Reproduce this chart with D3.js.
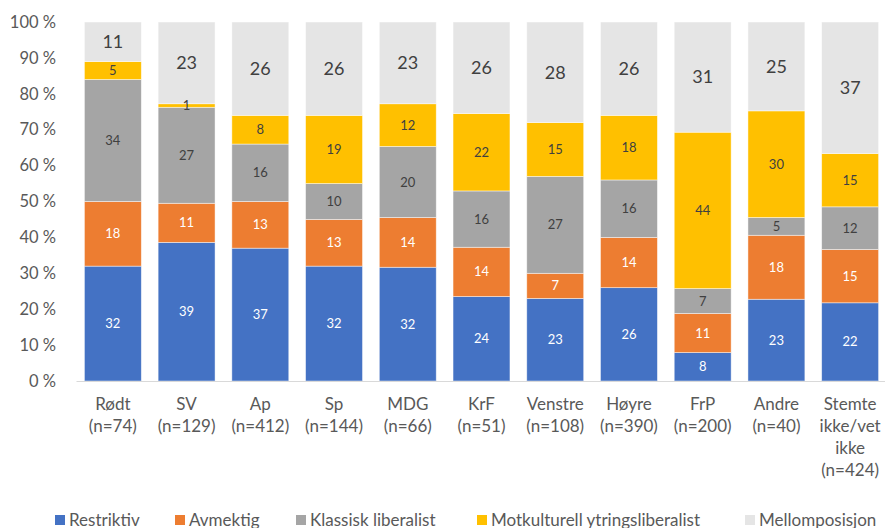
<!DOCTYPE html>
<html>
<head>
<meta charset="utf-8">
<script src="https://cdn.jsdelivr.net/npm/d3@7"></script>
<style>
  body { margin: 0; background: #fff; }
  svg { font-family: Lato, 'Open Sans', sans-serif; }
</style>
</head>
<body>
<svg></svg>
<script>
const parties = ['Rødt', 'SV', 'Ap', 'Sp', 'MDG', 'KrF', 'Venstre', 'Høyre', 'FrP', 'Andre', 'Stemte'];
const partyLabels = [
  ['Rødt', '(n=74)'],
  ['SV', '(n=129)'],
  ['Ap', '(n=412)'],
  ['Sp', '(n=144)'],
  ['MDG', '(n=66)'],
  ['KrF', '(n=51)'],
  ['Venstre', '(n=108)'],
  ['Høyre', '(n=390)'],
  ['FrP', '(n=200)'],
  ['Andre', '(n=40)'],
  ['Stemte', 'ikke/vet', 'ikke', '(n=424)'],
];

const seriesNames = ['Restriktiv', 'Avmektig', 'Klassisk liberalist', 'Motkulturell ytringsliberalist', 'Mellomposisjon'];
const restriktiv = [32, 39, 37, 32, 32, 24, 23, 26, 8, 23, 22];
const avmektig = [18, 11, 13, 13, 14, 14, 7, 14, 11, 18, 15];
const klassisk = [34, 27, 16, 10, 20, 16, 27, 16, 7, 5, 12];
const motkulturell = [5, 1, 8, 19, 12, 22, 15, 18, 44, 30, 15];
const mellom = [11, 23, 26, 26, 23, 26, 28, 26, 31, 25, 37];
const yTicks = [0, 10, 20, 30, 40, 50, 60, 70, 80, 90, 100];

const colors = ['#4472C4', '#ED7D31', '#A5A5A5', '#FFC000', '#E5E5E5'];
const labelColors = ['#ffffff', '#ffffff', '#404040', '#404040', '#404040'];

const width = 885;
const height = 528;

const svg = d3.select('svg').attr('width', width).attr('height', height);

const table = parties.map((p, i) => {
  return {
    party: p,
    s0: restriktiv[i],
    s1: avmektig[i],
    s2: klassisk[i],
    s3: motkulturell[i],
    s4: mellom[i],
  };
});

const keys = ['s0', 's1', 's2', 's3', 's4'];
const stacked = d3.stack().keys(keys).offset(d3.stackOffsetExpand)(table);

const xScale = d3
  .scaleBand()
  .domain(parties)
  .range([76, 887])
  .paddingInner(0.228)
  .paddingOuter(0.114);

const yScale = d3.scaleLinear().domain([0, 1]).range([381, 22]);

// bars
const layers = svg
  .selectAll('g.layer')
  .data(stacked)
  .enter()
  .append('g')
  .attr('class', 'layer')
  .attr('fill', (d, i) => colors[i]);

layers
  .selectAll('rect')
  .data((d) => d)
  .enter()
  .append('rect')
  .attr('x', (d) => xScale(d.data.party))
  .attr('width', xScale.bandwidth())
  .attr('y', (d) => yScale(d[1]))
  .attr('height', (d) => yScale(d[0]) - yScale(d[1]))
  .attr('stroke', '#ffffff')
  .attr('stroke-opacity', 0.6)
  .attr('stroke-width', 0.75);

// value labels
stacked.forEach((layer, i) => {
  svg
    .append('g')
    .selectAll('text')
    .data(layer)
    .enter()
    .append('text')
    .attr('x', (d) => xScale(d.data.party) + xScale.bandwidth() / 2)
    .attr('y', (d) => yScale((d[0] + d[1]) / 2))
    .attr('dy', '0.35em')
    .attr('text-anchor', 'middle')
    .attr('fill', labelColors[i])
    .style('font-size', i === 4 ? '18px' : '13px')
    .text((d) => d.data[layer.key]);
});

// y axis
const yAxis = d3
  .axisLeft(yScale)
  .tickValues(yTicks.map((t) => t / 100))
  .tickFormat((t) => Math.round(t * 100) + ' %')
  .tickSize(0)
  .tickPadding(0);

svg
  .append('g')
  .attr('transform', 'translate(56, 0)')
  .call(yAxis)
  .call((g) => g.select('.domain').remove())
  .selectAll('text')
  .attr('fill', '#595959')
  .style('font-size', '16.5px')
  .style('font-family', 'Lato, sans-serif');

// x axis
const xAxis = d3.axisBottom(xScale).tickSize(0).tickFormat('');

const xg = svg
  .append('g')
  .attr('transform', 'translate(0, 381)')
  .call(xAxis);

xg.select('.domain').attr('stroke', '#D9D9D9').attr('stroke-width', 1);

xg.selectAll('.tick').each(function (d, i) {
  const t = d3
    .select(this)
    .append('text')
    .attr('fill', '#595959')
    .attr('text-anchor', 'middle')
    .style('font-size', '17px')
    .style('font-family', 'Lato, sans-serif');
  partyLabels[i].forEach((line, j) => {
    t.append('tspan')
      .attr('x', 0)
      .attr('y', 29 + j * 22)
      .text(line);
  });
});

// legend
const legendX = [55, 175, 296, 477, 745];
const legend = svg
  .selectAll('g.legend')
  .data(seriesNames)
  .enter()
  .append('g')
  .attr('class', 'legend')
  .attr('transform', (d, i) => 'translate(' + legendX[i] + ', 515)');

legend
  .append('rect')
  .attr('width', 10)
  .attr('height', 10)
  .attr('fill', (d, i) => colors[i]);

legend
  .append('text')
  .attr('x', 14)
  .attr('y', 11)
  .attr('fill', '#595959')
  .style('font-size', '17px')
  .text((d) => d);
</script>
</body>
</html>
